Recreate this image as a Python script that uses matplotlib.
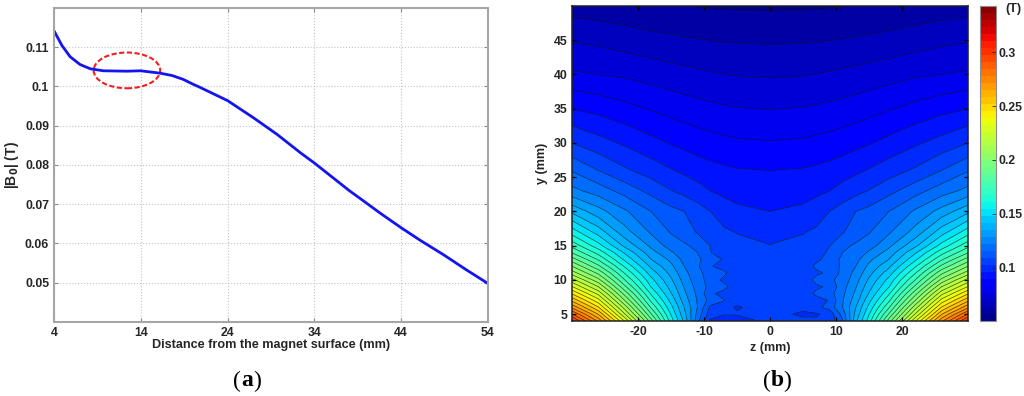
import numpy as np
import matplotlib
matplotlib.use('Agg')
import matplotlib.pyplot as plt
from matplotlib.patches import Ellipse

plt.rcParams['font.family'] = ['Liberation Sans', 'DejaVu Sans']
plt.rcParams['axes.unicode_minus'] = False

# panel (a): field against distance
distance = [4, 4.9, 5.85, 7, 8.2, 9.7, 12.4, 14, 16.2, 17.6, 18.9, 20, 20.8, 24, 27, 29.7, 32.4,
            34, 36, 38, 39.5, 41.6, 44, 46.2, 48.9, 51.5, 54]
b_field = [0.1142, 0.1105, 0.1076, 0.1056, 0.1045, 0.104, 0.1039, 0.104, 0.1034, 0.1028, 0.1018,
           0.1006, 0.0998, 0.0964, 0.092, 0.0878, 0.0831, 0.0805, 0.077, 0.0735, 0.0711, 0.0677,
           0.064, 0.0608, 0.0571, 0.0533, 0.0498]
a_xticks = [4, 14, 24, 34, 44, 54]
a_yticks = [0.05, 0.06, 0.07, 0.08, 0.09, 0.1, 0.11]
a_ylabels = ['0.05', '0.06', '0.07', '0.08', '0.09', '0.1', '0.11']

# panel (b): field map, one row per y value
z_mm = [-30, -26, -22, -18, -15, -13, -11, -9, -7, -5, 0, 5, 7, 9, 11, 13, 15, 18, 22, 26, 30]
y_mm = [4, 5, 6, 7, 8, 9, 10, 11, 12, 13, 14, 15, 17, 20, 23, 26, 30, 35, 40, 45, 50]
field = [
    [.300, .270, .232, .190, .158, .140, .118, .1015, .1005, .1008, .1035, .1035, .1035, .1045, .115, .140, .158, .190, .232, .270, .300],
    [.285, .258, .220, .181, .154, .137, .120, .1050, .1028, .1028, .1040, .1018, .1018, .1045, .118, .137, .154, .181, .220, .258, .285],
    [.270, .246, .210, .173, .150, .135, .122, .1075, .1035, .1022, .1040, .1035, .1072, .1115, .122, .135, .150, .173, .210, .246, .270],
    [.257, .235, .200, .166, .146, .132, .1215, .1130, .1095, .1035, .1040, .1040, .1060, .1095, .1215, .132, .146, .166, .200, .235, .257],
    [.245, .224, .191, .160, .142, .130, .1205, .1105, .1065, .1040, .1039, .1045, .1105, .1130, .1205, .130, .142, .160, .191, .224, .245],
    [.233, .213, .182, .154, .139, .128, .1195, .1135, .1115, .1045, .1039, .1045, .1075, .1105, .1195, .128, .139, .154, .182, .213, .233],
    [.222, .202, .174, .150, .136, .126, .118, .1130, .1075, .1045, .1038, .1045, .1115, .1140, .118, .126, .136, .150, .174, .202, .222],
    [.210, .192, .167, .145, .133, .124, .1175, .1125, .1105, .1045, .1037, .1045, .1075, .1105, .1175, .124, .133, .145, .167, .192, .210],
    [.200, .182, .160, .140, .130, .122, .1165, .1095, .1065, .1045, .1036, .1045, .1105, .1125, .1165, .122, .130, .140, .160, .182, .200],
    [.190, .173, .153, .135, .127, .120, .117, .1115, .1085, .1045, .1035, .1045, .1075, .1115, .117, .120, .127, .135, .153, .173, .190],
    [.180, .165, .147, .131, .123, .118, .1155, .1092, .1060, .1045, .1033, .1045, .1065, .1100, .1155, .118, .123, .131, .147, .165, .180],
    [.172, .157, .140, .127, .119, .1165, .114, .1088, .1055, .1045, .1027, .1040, .1055, .1088, .114, .1165, .119, .127, .140, .157, .172],
    [.158, .145, .131, .121, .115, .112, .1085, .1055, .1035, .1022, .1005, .1022, .1035, .1055, .1085, .112, .115, .121, .131, .145, .158],
    [.140, .131, .123, .1155, .111, .109, .1055, .1025, .0995, .0975, .0960, .0975, .0995, .1025, .1055, .109, .111, .1155, .123, .131, .140],
    [.124, .119, .113, .107, .1028, .1005, .0985, .096, .0945, .0935, .0925, .0935, .0945, .096, .0985, .1005, .1028, .107, .113, .119, .124],
    [.115, .109, .1035, .0995, .0965, .0947, .0930, .0917, .0907, .0900, .0895, .0900, .0907, .0917, .0930, .0947, .0965, .0995, .1035, .109, .115],
    [.1025, .0985, .095, .0915, .089, .0878, .0865, .0855, .0847, .084, .0835, .084, .0847, .0855, .0865, .0878, .089, .0915, .095, .0985, .1025],
    [.0895, .0875, .085, .0825, .0808, .0797, .0788, .078, .0773, .0768, .0763, .0768, .0773, .078, .0788, .0797, .0808, .0825, .085, .0875, .0895],
    [.0775, .0765, .0755, .074, .0727, .072, .0713, .0707, .0701, .0697, .0693, .0697, .0701, .0707, .0713, .072, .0727, .074, .0755, .0765, .0775],
    [.0695, .0685, .067, .0655, .0648, .0642, .0638, .0634, .0631, .0629, .0627, .0629, .0631, .0634, .0638, .0642, .0648, .0655, .067, .0685, .0695],
    [.0605, .0598, .059, .058, .0575, .0572, .0568, .0565, .0563, .0562, .056, .0562, .0563, .0565, .0568, .0572, .0575, .058, .059, .0598, .0605],
]
b_xticks = [-20, -10, 0, 10, 20]
b_yticks = [5, 10, 15, 20, 25, 30, 35, 40, 45]
levels = np.arange(0.0505, 0.3475, 0.0065)
cbar_ticks = [0.1, 0.15, 0.2, 0.25, 0.3]
cbar_labels = ['0.1', '0.15', '0.2', '0.25', '0.3']

W, H = 1024, 396
def box(x0, y0, x1, y1):
    # pixel box (top-left origin) to figure fractions
    return [x0 / W, 1 - y1 / H, (x1 - x0) / W, (y1 - y0) / H]

fig = plt.figure(figsize=(W / 100, H / 100), dpi=100)
dark = '#262626'

ax1 = fig.add_axes(box(54, 8, 488, 322))
ax1.plot(distance, b_field, color='#1414f0', lw=2)
ax1.add_patch(Ellipse((12.4, 0.1041), 7.67, 0.0091, fill=False, ec='#f01e1e', ls=(0, (2.5, 1.2)), lw=1.5))
ax1.set_xlim(4, 54)
ax1.set_ylim(0.04, 0.12)
ax1.set_xticks(a_xticks)
ax1.set_yticks(a_yticks)
ax1.set_yticklabels(a_ylabels)
ax1.grid(True, color='#c4c4c4', ls=':', lw=0.8)
ax1.set_axisbelow(True)
ax1.tick_params(direction='in', length=3, color='#8c8c8c', width=0.8, top=True, right=True, pad=3.5)
for lab in ax1.get_xticklabels() + ax1.get_yticklabels():
    lab.set_fontsize(8.8)
    lab.set_fontweight('bold')
    lab.set_color(dark)
for s in ax1.spines.values():
    s.set_color('#a6a6a6')
    s.set_linewidth(1.5)
ax1.set_xlabel('Distance from the magnet surface (mm)', fontsize=9.05, fontweight='bold', color=dark, labelpad=0)
ax1.set_ylabel('|B$_{\\mathbf{0}}$| (T)', fontsize=10, fontweight='bold', color=dark, labelpad=3)

ax2 = fig.add_axes(box(572, 6, 968, 321))
cf = ax2.contourf(z_mm, y_mm, field, levels=levels, cmap='jet')
ax2.contour(z_mm, y_mm, field, levels=levels, colors='#101010', linewidths=0.5, alpha=0.75)
ax2.set_xlim(-30, 30)
ax2.set_ylim(4, 50)
ax2.set_xticks(b_xticks)
ax2.set_yticks(b_yticks)
ax2.tick_params(direction='in', length=3, width=0.9, top=True, right=True, pad=3.5)
for lab in ax2.get_xticklabels() + ax2.get_yticklabels():
    lab.set_fontsize(8.8)
    lab.set_fontweight('bold')
    lab.set_color(dark)
for s in ax2.spines.values():
    s.set_linewidth(1.1)
    s.set_color('#202020')
ax2.set_xlabel('z (mm)', fontsize=9, fontweight='bold', color=dark, labelpad=3)
ax2.set_ylabel('y (mm)', fontsize=9, fontweight='bold', color=dark, labelpad=4)

cax = fig.add_axes(box(980, 6, 996, 321))
cb = fig.colorbar(cf, cax=cax, ticks=cbar_ticks)
cb.ax.set_yticklabels(cbar_labels)
cb.ax.tick_params(direction='in', length=3, width=0.6, pad=2, labelsize=8.8, colors=dark)
for lab in cb.ax.get_yticklabels():
    lab.set_fontweight('bold')
cb.outline.set_edgecolor('#8c8c8c')
cb.outline.set_linewidth(0.8)
fig.text(1013 / W, 1 - 9 / H, '(T)', fontsize=9, fontweight='bold', color=dark, ha='center', va='center')

# panel captions, bold letter between plain brackets
serif = ['Liberation Serif', 'DejaVu Serif']
for cx, letter in [(247, 'a'), (777, 'b')]:
    y = 1 - 381 / H
    half = 6
    fig.text((cx - half) / W, y, '(', family=serif, fontsize=17, color='black', ha='right', va='center')
    fig.text(cx / W, y, letter, family=serif, fontsize=17, fontweight='bold', color='black', ha='center', va='center')
    fig.text((cx + half) / W, y, ')', family=serif, fontsize=17, color='black', ha='left', va='center')

fig.savefig('out.png', dpi=100)
